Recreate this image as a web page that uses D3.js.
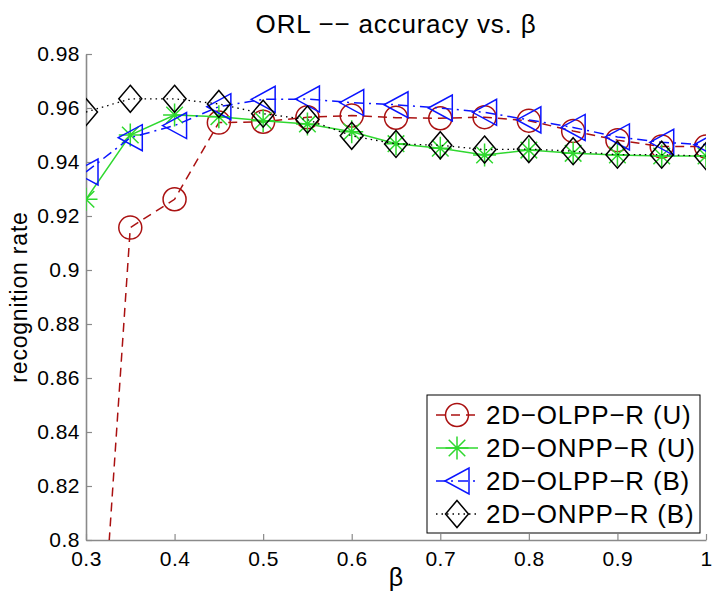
<!DOCTYPE html>
<html>
<head>
<meta charset="utf-8">
<script src="https://cdn.jsdelivr.net/npm/d3@7"></script>
<style>
  html, body { margin: 0; padding: 0; background: #fff; }
  svg { display: block; font-family: "Liberation Sans", Arial, Helvetica, sans-serif; }
</style>
</head>
<body>
<svg id="chart" width="728" height="599"></svg>
<script>
const beta = [0.3, 0.35, 0.4, 0.45, 0.5, 0.55, 0.6, 0.65, 0.7, 0.75, 0.8, 0.85, 0.9, 0.95, 1.0];
const olppU = [0.672, 0.9157, 0.9262, 0.9546, 0.9549, 0.9566, 0.9572, 0.9564, 0.9562, 0.9566, 0.9553, 0.9515, 0.9481, 0.9457, 0.9457];
const onppU = [0.9262, 0.9500, 0.9574, 0.9568, 0.9553, 0.9541, 0.9512, 0.9468, 0.9451, 0.9426, 0.9444, 0.9432, 0.9426, 0.9422, 0.9422];
const olppB = [0.9363, 0.9490, 0.9535, 0.9605, 0.9632, 0.9633, 0.9620, 0.9612, 0.9600, 0.9584, 0.9556, 0.9528, 0.9493, 0.9473, 0.9464];
const onppB = [0.9585, 0.9634, 0.9634, 0.9615, 0.9579, 0.9557, 0.9497, 0.9467, 0.9462, 0.9446, 0.9448, 0.9440, 0.9427, 0.9427, 0.9422];
const seriesNames = ["2D\u2212OLPP\u2212R (U)", "2D\u2212ONPP\u2212R (U)", "2D\u2212OLPP\u2212R (B)", "2D\u2212ONPP\u2212R (B)"];
const xTicks = [0.3, 0.4, 0.5, 0.6, 0.7, 0.8, 0.9, 1];
const yTicks = [0.8, 0.82, 0.84, 0.86, 0.88, 0.9, 0.92, 0.94, 0.96, 0.98];
const titleText = "ORL \u2212\u2212 accuracy vs. \u03b2";
const xLabel = "\u03b2";
const yLabel = "recognition rate";

const styles = [
  { color: "#aa1111", dash: "9,6", marker: "circle" },
  { color: "#2fd82f", dash: null, marker: "star" },
  { color: "#0a14ff", dash: "10,5,2,5", marker: "triangle" },
  { color: "#000000", dash: "1.5,4", marker: "diamond" }
];
const seriesData = [olppU, onppU, olppB, onppB];

const svg = d3.select("#chart");
const margin = { left: 86, right: 22, top: 54, bottom: 59 };
const W = 728, H = 599;
const x = d3.scaleLinear().domain([0.3, 1]).range([margin.left, W - margin.right]);
const y = d3.scaleLinear().domain([0.8, 0.98]).range([H - margin.bottom, margin.top]);

svg.append("defs").append("clipPath").attr("id", "clip")
  .append("rect")
  .attr("x", x(0.3)).attr("y", y(0.98))
  .attr("width", x(1) - x(0.3)).attr("height", y(0.8) - y(0.98));

// Axes
const axisColor = "#8a8a8a";
const xAxis = d3.axisBottom(x).tickValues(xTicks).tickSizeInner(-6).tickSizeOuter(0).tickPadding(11)
  .tickFormat(d => d3.format("")(d));
const yAxis = d3.axisLeft(y).tickValues(yTicks).tickSizeInner(-6).tickSizeOuter(0).tickPadding(6)
  .tickFormat(d => String(+d.toFixed(2)));

const gx = svg.append("g").attr("transform", `translate(0,${y(0.8)})`).call(xAxis);
const gy = svg.append("g").attr("transform", `translate(${x(0.3)},0)`).call(yAxis);
[gx, gy].forEach(g => {
  g.select(".domain").attr("stroke", axisColor).attr("stroke-width", 1.6);
  g.selectAll(".tick line").attr("stroke", axisColor).attr("stroke-width", 1.2);
  g.selectAll(".tick text").attr("fill", "#000").style("font-size", "21px").style("letter-spacing", "0.5px")
    .style("font-family", "'Liberation Sans', Arial, sans-serif");
});
gx.selectAll(".tick text").attr("dy", "0.71em");

// Title
svg.append("text").attr("x", (x(0.3) + x(1)) / 2).attr("y", 33)
  .attr("text-anchor", "middle").style("font-size", "26px").style("letter-spacing", "0.8px")
  .text(titleText);
// x label
svg.append("text").attr("x", (x(0.3) + x(1)) / 2).attr("y", 586)
  .attr("text-anchor", "middle").style("font-size", "25px").text(xLabel);
// y label
svg.append("text").attr("transform", `translate(27,${(y(0.8) + y(0.98)) / 2}) rotate(-90)`)
  .attr("text-anchor", "middle").style("font-size", "23px").style("letter-spacing", "0.8px")
  .text(yLabel);

// Marker drawing
function drawMarker(g, type, cx, cy, color) {
  const sw = 1.5;
  if (type === "circle") {
    g.append("circle").attr("cx", cx).attr("cy", cy).attr("r", 11.5)
      .attr("fill", "none").attr("stroke", color).attr("stroke-width", sw);
  } else if (type === "star") {
    const r = 11.5, d = r * 0.72;
    const p = d3.path();
    p.moveTo(cx - r, cy); p.lineTo(cx + r, cy);
    p.moveTo(cx, cy - r); p.lineTo(cx, cy + r);
    p.moveTo(cx - d, cy - d); p.lineTo(cx + d, cy + d);
    p.moveTo(cx - d, cy + d); p.lineTo(cx + d, cy - d);
    g.append("path").attr("d", p.toString()).attr("fill", "none")
      .attr("stroke", color).attr("stroke-width", sw);
  } else if (type === "triangle") {
    const rx = 12, ry = 13;
    g.append("path").attr("d", `M${cx - rx},${cy} L${cx + rx},${cy - ry} L${cx + rx},${cy + ry} Z`)
      .attr("fill", "none").attr("stroke", color).attr("stroke-width", sw).attr("stroke-linejoin", "miter");
  } else if (type === "diamond") {
    const r = 13.5;
    g.append("path").attr("d", `M${cx},${cy - r} L${cx + r * 0.85},${cy} L${cx},${cy + r} L${cx - r * 0.85},${cy} Z`)
      .attr("fill", "none").attr("stroke", color).attr("stroke-width", sw).attr("stroke-linejoin", "miter");
  }
}

const plot = svg.append("g").attr("clip-path", "url(#clip)");
const line = d3.line().x(d => x(d[0])).y(d => y(d[1]));
seriesData.forEach((vals, i) => {
  const st = styles[i];
  const pts = beta.map((b, j) => [b, vals[j]]);
  const sg = plot.append("g");
  sg.append("path").attr("d", line(pts)).attr("fill", "none")
    .attr("stroke", st.color).attr("stroke-width", i === 3 ? 1.3 : 1.5)
    .attr("stroke-dasharray", st.dash);
  pts.forEach(p => drawMarker(sg, st.marker, x(p[0]), y(p[1]), st.color));
});

// Legend
const lg = svg.append("g");
const lx = 427, ly = 395, lw = 273, lh = 138;
lg.append("rect").attr("x", lx).attr("y", ly).attr("width", lw).attr("height", lh)
  .attr("fill", "#fff").attr("stroke", "#000").attr("stroke-width", 1);
seriesNames.forEach((name, i) => {
  const st = styles[i];
  const cy = 415 + i * 33;
  lg.append("line").attr("x1", 436).attr("x2", 478).attr("y1", cy).attr("y2", cy)
    .attr("stroke", st.color).attr("stroke-width", 1.5).attr("stroke-dasharray", st.dash);
  drawMarker(lg, st.marker, 457, cy, st.color);
  lg.append("text").attr("x", 486).attr("y", cy).attr("dy", "0.35em")
    .style("font-size", "26px").style("letter-spacing", "0.8px").text(name);
});
</script>
</body>
</html>
